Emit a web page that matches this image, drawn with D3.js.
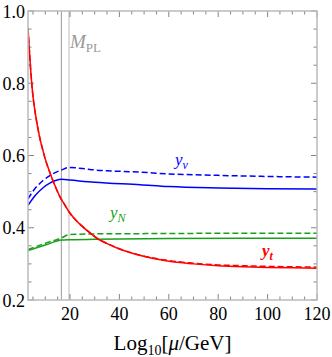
<!DOCTYPE html>
<html>
<head>
<meta charset="utf-8">
<script src="https://cdn.jsdelivr.net/npm/d3@7"></script>
<style>
  body { margin: 0; background: #fff; }
  text { font-family: "Liberation Serif", "Times New Roman", serif; }
</style>
</head>
<body>
<div id="chart"></div>
<script>
// values
var ytX   = [3, 4, 5, 6, 7, 8, 9, 10, 12, 13, 16, 18, 20, 24, 28, 31, 35, 40, 48.5, 60, 70, 80, 90, 100, 110, 120];
var ytY   = [0.953, 0.845, 0.765, 0.715, 0.675, 0.642, 0.615, 0.59, 0.55, 0.532, 0.485, 0.462, 0.44, 0.41, 0.386, 0.37, 0.356, 0.341, 0.323, 0.307, 0.3, 0.295, 0.292, 0.29, 0.289, 0.288];
var ytDY  = [0.953, 0.845, 0.765, 0.715, 0.675, 0.642, 0.615, 0.59, 0.55, 0.532, 0.485, 0.462, 0.44, 0.41, 0.387, 0.371, 0.357, 0.342, 0.324, 0.309, 0.302, 0.297, 0.295, 0.293, 0.292, 0.291];

var nuX   = [3, 6, 9, 12, 16.6, 20, 30, 48.5, 60, 80, 100, 120];
var nuY   = [0.462, 0.49, 0.51, 0.524, 0.534, 0.532, 0.526, 0.519, 0.514, 0.51, 0.508, 0.507];
var nuDX  = [3, 6, 9, 12, 16.6, 19.7, 25, 30, 48.5, 60, 80, 100, 120];
var nuDY  = [0.48, 0.51, 0.53, 0.545, 0.56, 0.567, 0.564, 0.56, 0.554, 0.549, 0.545, 0.542, 0.54];

var nX    = [3, 10, 16.6, 20, 30, 60, 90, 120];
var nY    = [0.337, 0.352, 0.366, 0.367, 0.368, 0.37, 0.371, 0.371];
var nDX   = [3, 10, 16.6, 19.7, 30, 60, 90, 120];
var nDY   = [0.34, 0.357, 0.372, 0.381, 0.383, 0.384, 0.385, 0.385];

var vLines = [16.5, 19.6];
var xTicks = [20, 40, 60, 80, 100, 120];
var yTicks = [0.2, 0.4, 0.6, 0.8, 1.0];

var W = 332, H = 357;
var margin = { top: 11, right: 15, bottom: 57, left: 28 };

var x = d3.scaleLinear().domain([3, 120]).range([margin.left, W - margin.right]);
var y = d3.scaleLinear().domain([0.2, 1.0]).range([H - margin.bottom, margin.top]);

var svg = d3.select("#chart").append("svg")
    .attr("width", W)
    .attr("height", H);

svg.append("defs").append("clipPath").attr("id", "clip")
  .append("rect")
    .attr("x", x.range()[0]).attr("y", y.range()[1])
    .attr("width", x.range()[1] - x.range()[0])
    .attr("height", y.range()[0] - y.range()[1]);

// vertical reference lines
svg.selectAll(".vline")
    .data(vLines)
  .enter().append("line")
    .attr("x1", function(d) { return x(d); })
    .attr("x2", function(d) { return x(d); })
    .attr("y1", y.range()[0])
    .attr("y2", y.range()[1])
    .attr("stroke", function(d, i) { return i ? "#bbb" : "#999"; })
    .attr("stroke-width", 1);

// curves
var line = d3.line()
    .x(function(d) { return x(d[0]); })
    .y(function(d) { return y(d[1]); })
    .curve(d3.curveMonotoneX);

var series = [
  { xs: nuDX, ys: nuDY, color: "#0000ff", dash: "6,3" },
  { xs: nuX,  ys: nuY,  color: "#0000ff", dash: null },
  { xs: nDX,  ys: nDY,  color: "#1a9f1a", dash: "6,3" },
  { xs: nX,   ys: nY,   color: "#1a9f1a", dash: null },
  { xs: ytX,  ys: ytDY, color: "#ff0000", dash: "6,3" },
  { xs: ytX,  ys: ytY,  color: "#ff0000", dash: null }
];

var plot = svg.append("g").attr("clip-path", "url(#clip)");
plot.selectAll(".curve")
    .data(series)
  .enter().append("path")
    .attr("class", "curve")
    .attr("fill", "none")
    .attr("stroke", function(d) { return d.color; })
    .attr("stroke-width", 1.5)
    .attr("stroke-dasharray", function(d) { return d.dash; })
    .attr("d", function(d) { return line(d.xs.map(function(v, i) { return [v, d.ys[i]]; })); });

// frame with ticks on all sides
var frameColor = "#bbb";
var tickColor = "#666";
var x0 = x.range()[0], x1 = x.range()[1], y0 = y.range()[0], y1 = y.range()[1];

var xMinor = d3.range(5, 120, 5).filter(function(v) { return v % 20 !== 0; });
var yMinor = d3.range(0.25, 1.0, 0.05).filter(function(v) { return Math.abs(v * 5 - Math.round(v * 5)) > 1e-6; });

var ticks = svg.append("g").attr("stroke", tickColor).attr("stroke-width", 0.8);
function tick(xa, ya, xb, yb) {
  ticks.append("line").attr("x1", xa).attr("y1", ya).attr("x2", xb).attr("y2", yb);
}
xTicks.forEach(function(v) { tick(x(v), y0, x(v), y0 - 6); tick(x(v), y1, x(v), y1 + 6); });
xMinor.forEach(function(v) { tick(x(v), y0, x(v), y0 - 3.5); tick(x(v), y1, x(v), y1 + 3.5); });
yTicks.forEach(function(v) { tick(x0, y(v), x0 + 6, y(v)); tick(x1, y(v), x1 - 6, y(v)); });
yMinor.forEach(function(v) { tick(x0, y(v), x0 + 3.5, y(v)); tick(x1, y(v), x1 - 3.5, y(v)); });

svg.append("rect")
    .attr("x", x0).attr("y", y1)
    .attr("width", x1 - x0).attr("height", y0 - y1)
    .attr("fill", "none")
    .attr("stroke", frameColor)
    .attr("stroke-width", 1.5);

// tick labels
svg.selectAll(".xl")
    .data(xTicks)
  .enter().append("text")
    .attr("x", function(d) { return x(d); })
    .attr("y", y0 + 19.5)
    .attr("text-anchor", "middle")
    .style("font-size", "18px")
    .text(function(d) { return d; });

svg.selectAll(".yl")
    .data(yTicks)
  .enter().append("text")
    .attr("x", x0 - 3)
    .attr("y", function(d) { return y(d) + 6.5; })
    .attr("text-anchor", "end")
    .style("font-size", "18px")
    .text(function(d) { return d.toFixed(1); });

// axis title
var title = svg.append("text")
    .attr("x", (x0 + x1) / 2)
    .attr("y", H - 7)
    .attr("text-anchor", "middle")
    .style("font-size", "21px");
title.append("tspan").text("Log");
title.append("tspan").attr("dy", 5).style("font-size", "14px").text("10");
title.append("tspan").attr("dy", -5).text("[");
title.append("tspan").style("font-style", "italic").text("μ");
title.append("tspan").text("/GeV]");

// curve labels
function label(vx, vy, main, sub, color, bold, size) {
  var t = svg.append("text")
      .attr("x", x(vx))
      .attr("y", y(vy))
      .attr("fill", color)
      .style("font-size", size + "px")
      .style("font-weight", bold ? "bold" : null);
  t.append("tspan").style("font-style", "italic").text(main);
  t.append("tspan").attr("dy", 4).style("font-size", Math.round(size * 0.7) + "px")
    .style("font-style", sub.italic ? "italic" : null).text(sub.text);
}
label(62.5, 0.574, "y", { text: "ν", italic: true }, "#0000ff", false, 17);
label(36.2, 0.427, "y", { text: "N", italic: true }, "#1a9f1a", false, 17);
label(97.7, 0.322, "y", { text: "t", italic: true }, "#ff0000", true, 17);
label(20.0, 0.898, "M", { text: "PL", italic: false }, "#999", false, 19);
</script>
</body>
</html>
